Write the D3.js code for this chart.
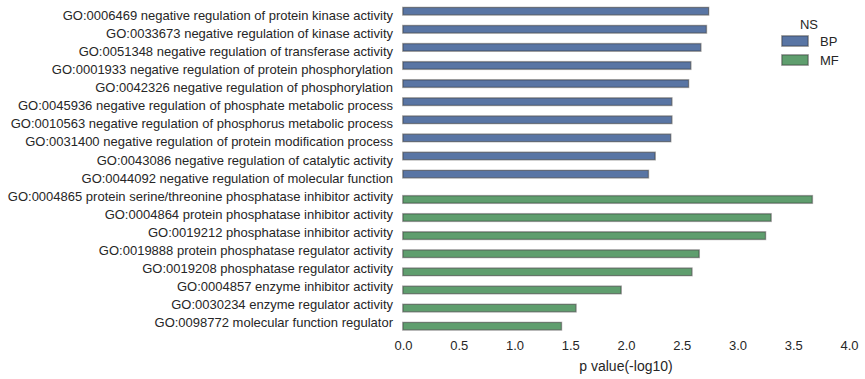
<!DOCTYPE html>
<html>
<head>
<meta charset="utf-8">
<script src="https://cdn.jsdelivr.net/npm/d3@7"></script>
<style>
  html, body { margin: 0; padding: 0; background: #fff; }
  svg { display: block; font-family: "Liberation Sans", Arial, sans-serif; }
</style>
</head>
<body>
<svg id="chart" width="865" height="379"></svg>
<script>
const categories = [
  "GO:0006469 negative regulation of protein kinase activity",
  "GO:0033673 negative regulation of kinase activity",
  "GO:0051348 negative regulation of transferase activity",
  "GO:0001933 negative regulation of protein phosphorylation",
  "GO:0042326 negative regulation of phosphorylation",
  "GO:0045936 negative regulation of phosphate metabolic process",
  "GO:0010563 negative regulation of phosphorus metabolic process",
  "GO:0031400 negative regulation of protein modification process",
  "GO:0043086 negative regulation of catalytic activity",
  "GO:0044092 negative regulation of molecular function",
  "GO:0004865 protein serine/threonine phosphatase inhibitor activity",
  "GO:0004864 protein phosphatase inhibitor activity",
  "GO:0019212 phosphatase inhibitor activity",
  "GO:0019888 protein phosphatase regulator activity",
  "GO:0019208 phosphatase regulator activity",
  "GO:0004857 enzyme inhibitor activity",
  "GO:0030234 enzyme regulator activity",
  "GO:0098772 molecular function regulator"
];
const namespaces = ["BP","BP","BP","BP","BP","BP","BP","BP","BP","BP",
                    "MF","MF","MF","MF","MF","MF","MF","MF"];
const values = [2.74, 2.72, 2.67, 2.58, 2.56, 2.41, 2.41, 2.40, 2.26, 2.20,
                3.67, 3.30, 3.25, 2.655, 2.59, 1.955, 1.55, 1.42];
const hueLevels = ["BP", "MF"];
const hueColors = ["#5975A4", "#5F9E6E"];
const xTicks = [0, 0.5, 1, 1.5, 2, 2.5, 3, 3.5, 4];
const xLabel = "p value(-log10)";
const legendTitle = "NS";

const svg = d3.select("#chart");
const textColor = "#262626";

const x = d3.scaleLinear().domain([0, 4]).range([403, 849]);
const y = d3.scaleBand().domain(categories).range([5.75, 331.6]).paddingInner(0).paddingOuter(0);
const color = d3.scaleOrdinal().domain(hueLevels).range(hueColors);
const bw = y.bandwidth();
const hueWidth = 0.4 * bw;

const data = categories.map((c, i) => ({cat: c, ns: namespaces[i], v: values[i]}));

// bars
const bars = svg.append("g");
data.forEach(d => {
  const hi = hueLevels.indexOf(d.ns);
  const yc = y(d.cat) + bw / 2;
  const y0 = yc - 0.4 * bw + hi * hueWidth;
  bars.append("rect")
    .attr("x", x(0) - 0.5).attr("y", y0 - 0.5)
    .attr("width", x(d.v) - x(0) + 1).attr("height", hueWidth + 1)
    .attr("fill", "none").attr("stroke", "#c8c8c8").attr("stroke-width", 1);
  bars.append("rect")
    .attr("x", x(0)).attr("y", y0)
    .attr("width", x(d.v) - x(0)).attr("height", hueWidth)
    .attr("fill", color(d.ns))
    .attr("stroke", "rgba(40,40,40,0.5)").attr("stroke-width", 1);
});

// y tick labels
svg.append("g").selectAll("text").data(categories).join("text")
  .attr("x", 393)
  .attr("y", d => y(d) + bw / 2)
  .attr("dy", "0.38em")
  .attr("text-anchor", "end")
  .attr("font-size", 13)
  .attr("fill", textColor)
  .text(d => d);

// x axis (no line, no ticks)
const xAxis = d3.axisBottom(x).tickValues(xTicks).tickFormat(d3.format(".1f")).tickSize(0).tickPadding(0);
const gx = svg.append("g").attr("transform", "translate(0,341)").call(xAxis);
gx.select(".domain").remove();
gx.selectAll("text").attr("font-size", 13).attr("fill", textColor)
  .attr("font-family", "Liberation Sans, Arial, sans-serif");

svg.append("text")
  .attr("x", x(2)).attr("y", 366).attr("dy", "0.35em")
  .attr("text-anchor", "middle").attr("font-size", 14).attr("fill", textColor)
  .text(xLabel);

// legend
const lg = svg.append("g");
lg.append("text").attr("x", 809).attr("y", 24).attr("dy", "0.35em")
  .attr("text-anchor", "middle").attr("font-size", 13).attr("fill", textColor).text(legendTitle);
hueLevels.forEach((h, i) => {
  const yy = 36 + i * 19;
  lg.append("rect").attr("x", 781.5).attr("y", yy - 0.5).attr("width", 27).attr("height", 11)
    .attr("fill", "none").attr("stroke", "#c8c8c8");
  lg.append("rect").attr("x", 782).attr("y", yy).attr("width", 26).attr("height", 10)
    .attr("fill", color(h)).attr("stroke", "rgba(40,40,40,0.5)");
  lg.append("text").attr("x", 820).attr("y", yy + 5).attr("dy", "0.35em")
    .attr("font-size", 13).attr("fill", textColor).text(h);
});
</script>
</body>
</html>
